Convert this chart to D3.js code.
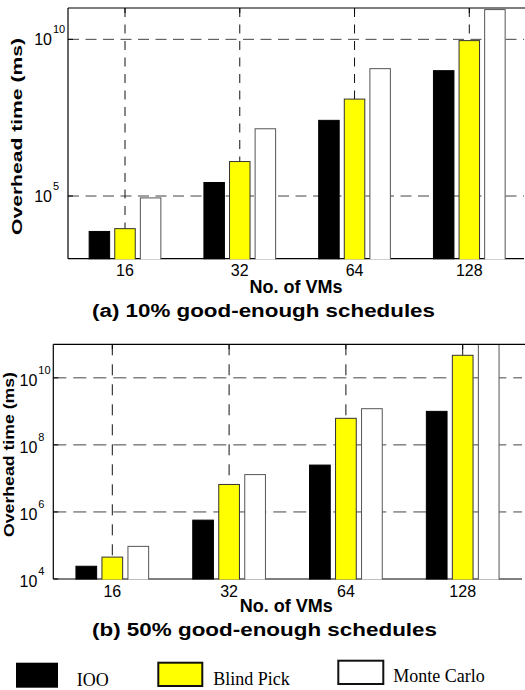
<!DOCTYPE html>
<html>
<head>
<meta charset="utf-8">
<script src="https://cdn.jsdelivr.net/npm/d3@7"></script>
<style>
  html, body { margin: 0; padding: 0; background: #fff; }
  svg { display: block; }
</style>
</head>
<body>
<script>
// ---------------- data ----------------
const categories = ["16", "32", "64", "128"];
const seriesNames = ["IOO", "Blind Pick", "Monte Carlo"];

// (a) 10% good-enough schedules
const ioo10   = [7.4e3, 2.7e5, 2.6e7, 1.0e9];
const blind10 = [9.1e3, 1.26e6, 1.24e8, 9.1e9];
const monte10 = [8.7e4, 1.4e7, 1.16e9, 8.9e10];

// (b) 50% good-enough schedules
const ioo50   = [2.4e4, 5.7e5, 2.5e7, 1.0e9];
const blind50 = [4.5e4, 6.6e6, 6.2e8, 4.7e10];
const monte50 = [9.4e4, 1.3e7, 1.2e9, 3e11];

const yTicks10 = [1e5, 1e10];
const yTicks50 = [1e4, 1e6, 1e8, 1e10];

const xTitle = "No. of VMs";
const yTitle = "Overhead time (ms)";
const title10 = "(a) 10% good-enough schedules";
const title50 = "(b) 50% good-enough schedules";

// ---------------- styles ----------------
const fills   = ["#000000", "#ffff00", "#ffffff"];
const strokes = ["#000000", "#333333", "#555555"];

const W = 525, H = 690;
const svg = d3.select("body").append("svg").attr("width", W).attr("height", H);

function drawPanel(cfg) {
  const g = svg.append("g");
  const y = d3.scaleLog().domain(cfg.yDomain).range([cfg.bottom, cfg.top]);
  const x = d3.scalePoint().domain(categories).range(cfg.xCenters);
  const inner = d3.scaleBand().domain(seriesNames)
    .range([-1.5 * cfg.step, 1.5 * cfg.step])
    .paddingInner(1 - cfg.barW / cfg.step)
    .paddingOuter((1 - cfg.barW / cfg.step) / 2);

  const clipId = "clip" + cfg.id;
  svg.append("clipPath").attr("id", clipId).append("rect")
    .attr("x", cfg.left).attr("y", cfg.top)
    .attr("width", cfg.right - cfg.left).attr("height", cfg.bottom - cfg.top + 0.6);

  // horizontal gridlines
  g.selectAll(".hg").data(cfg.yTicks.filter(t => y(t) < cfg.bottom - 1)).join("line")
    .attr("x1", cfg.left).attr("x2", cfg.right)
    .attr("y1", d => y(d)).attr("y2", d => y(d))
    .attr("stroke", "#444").attr("stroke-width", 1)
    .attr("stroke-dasharray", cfg.hDash);
  // vertical gridlines
  g.selectAll(".vg").data(categories).join("line")
    .attr("x1", d => x(d)).attr("x2", d => x(d))
    .attr("y1", cfg.top).attr("y2", cfg.bottom)
    .attr("stroke", "#111").attr("stroke-width", 1)
    .attr("stroke-dasharray", cfg.vDash);

  // bottom axis line
  g.append("line").attr("x1", cfg.left).attr("x2", cfg.right)
    .attr("y1", cfg.bottom).attr("y2", cfg.bottom)
    .attr("stroke", "#000").attr("stroke-width", 1.2);

  // bars
  const barsG = g.append("g").attr("clip-path", `url(#${clipId})`);
  cfg.series.forEach((vals, si) => {
    barsG.selectAll(".b" + si).data(vals.map((v, i) => ({ c: categories[i], v })))
      .join("rect")
      .attr("x", d => x(d.c) + inner(seriesNames[si]))
      .attr("width", inner.bandwidth())
      .attr("y", d => y(d.v))
      .attr("height", d => cfg.bottom + 2 - y(d.v))
      .attr("fill", fills[si])
      .attr("stroke", strokes[si])
      .attr("stroke-width", 1);
  });

  // frame: top + left
  g.append("line").attr("x1", cfg.left).attr("x2", cfg.right + 5)
    .attr("y1", cfg.top).attr("y2", cfg.top).attr("stroke", "#000").attr("stroke-width", 1.2);
  g.append("line").attr("x1", cfg.left).attr("x2", cfg.left)
    .attr("y1", cfg.top).attr("y2", cfg.bottom).attr("stroke", "#000").attr("stroke-width", 1.2);

  // ticks (inside)
  g.selectAll(".yt").data(cfg.yTicks).join("line")
    .attr("x1", cfg.left).attr("x2", cfg.left + 5)
    .attr("y1", d => y(d)).attr("y2", d => y(d))
    .attr("stroke", "#000");
  g.selectAll(".xt").data(categories).join("line")
    .attr("x1", d => x(d)).attr("x2", d => x(d))
    .attr("y1", cfg.top).attr("y2", cfg.top + 5)
    .attr("stroke", "#000");

  // y tick labels: 10^n
  const yl = g.selectAll(".yl").data(cfg.yTicks).join("g");
  yl.append("text")
    .attr("x", cfg.left - 16).attr("y", d => y(d) + cfg.labDy)
    .attr("text-anchor", "end")
    .attr("font-family", "Liberation Sans, Arial, sans-serif")
    .attr("font-size", 16).attr("fill", "#000")
    .text("10");
  yl.append("text")
    .attr("x", cfg.left - 15).attr("y", d => y(d) + cfg.labDy - 12)
    .attr("font-family", "Liberation Sans, Arial, sans-serif")
    .attr("font-size", 11).attr("fill", "#000")
    .text(d => String(Math.round(Math.log10(d))));

  // x tick labels
  g.selectAll(".xl").data(categories).join("text")
    .attr("x", d => x(d)).attr("y", cfg.xLabY)
    .attr("text-anchor", "middle")
    .attr("font-family", "Liberation Sans, Arial, sans-serif")
    .attr("font-size", 16).attr("fill", "#000")
    .text(d => d);

  // x title
  g.append("text").attr("x", cfg.xTitleX).attr("y", cfg.xTitleY)
    .attr("text-anchor", "middle")
    .attr("font-family", "Liberation Sans, Arial, sans-serif")
    .attr("font-weight", "bold").attr("font-size", 18).attr("fill", "#000")
    .text(xTitle);

  // y title
  g.append("text")
    .attr("transform", `translate(${cfg.yTitleX},${cfg.yTitleY}) rotate(-90)`)
    .attr("text-anchor", "middle")
    .attr("font-family", "Liberation Sans, Arial, sans-serif")
    .attr("font-weight", "bold").attr("font-size", cfg.yTitleSize).attr("fill", "#000")
    .attr("textLength", cfg.yTitleLen).attr("lengthAdjust", "spacingAndGlyphs")
    .text(yTitle);

  // caption
  g.append("text").attr("x", cfg.capX).attr("y", cfg.capY)
    .attr("text-anchor", "middle")
    .attr("font-family", "Liberation Sans, Arial, sans-serif")
    .attr("font-weight", "bold").attr("font-size", 18).attr("fill", "#000")
    .attr("textLength", cfg.capLen).attr("lengthAdjust", "spacingAndGlyphs")
    .text(cfg.caption);
}

drawPanel({
  id: "a", series: [ioo10, blind10, monte10],
  yDomain: [1e3, 1e11], yTicks: yTicks10,
  left: 68, right: 524, top: 8, bottom: 258.7,
  xCenters: [125, 469.3], step: 25.6, barW: 20.5,
  hDash: "11,6.5", vDash: "9,7.5", labDy: 6,
  xLabY: 276, xTitleX: 296, xTitleY: 293,
  yTitleX: 22, yTitleY: 136.5, yTitleLen: 197, yTitleSize: 15,
  capX: 263.5, capY: 317, capLen: 343, caption: title10
});

drawPanel({
  id: "b", series: [ioo50, blind50, monte50],
  yDomain: [1e4, 1e11], yTicks: yTicks50,
  left: 53.3, right: 522, top: 344.3, bottom: 579,
  xCenters: [112.3, 462.7], step: 26, barW: 20.7,
  hDash: "13,7", vDash: "11,9", labDy: 8,
  xLabY: 596.5, xTitleX: 286.3, xTitleY: 612,
  yTitleX: 13.5, yTitleY: 454.5, yTitleLen: 165, yTitleSize: 14,
  capX: 264.5, capY: 636, capLen: 345, caption: title50
});

// ---------------- legend ----------------
const legend = svg.append("g");
const legRects = [
  { x: 16, y: 662.7, w: 42, h: 25, sw: 0 },
  { x: 158.3, y: 662.7, w: 44, h: 23.3, sw: 2 },
  { x: 338.3, y: 660.7, w: 45, h: 23.3, sw: 2 }
];
const legText = [
  { x: 76.7, y: 685.5 },
  { x: 213.3, y: 685 },
  { x: 393.3, y: 681.7 }
];
seriesNames.forEach((name, i) => {
  const r = legRects[i];
  legend.append("rect")
    .attr("x", r.x).attr("y", r.y).attr("width", r.w).attr("height", r.h)
    .attr("fill", fills[i])
    .attr("stroke", r.sw ? "#111" : "none").attr("stroke-width", r.sw);
  legend.append("text")
    .attr("x", legText[i].x).attr("y", legText[i].y)
    .attr("font-family", "Liberation Serif, Times New Roman, serif")
    .attr("font-size", 18).attr("fill", "#000")
    .text(name);
});
</script>
</body>
</html>
